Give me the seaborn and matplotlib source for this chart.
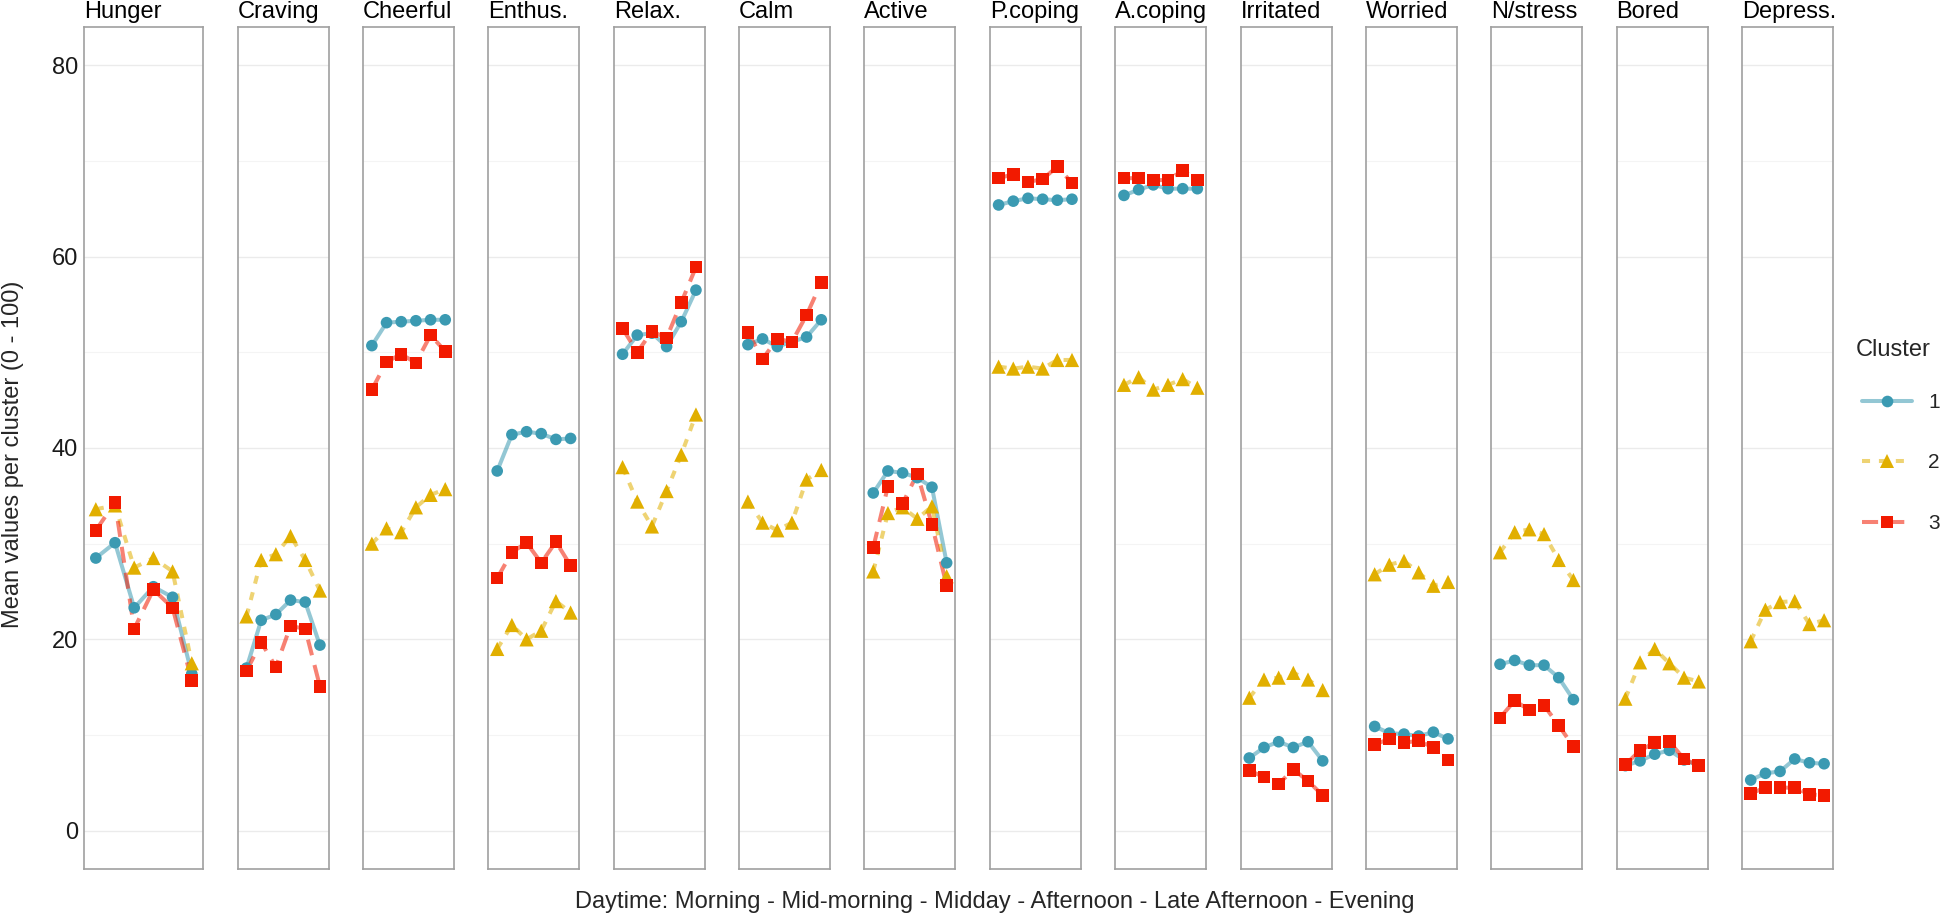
import matplotlib
matplotlib.use("Agg")
import matplotlib.pyplot as plt
import pandas as pd
import seaborn as sns
from matplotlib.colors import to_rgba
from matplotlib.lines import Line2D
from matplotlib.ticker import FixedLocator

EMOTIONS = ["Hunger", "Craving", "Cheerful", "Enthus.", "Relax.", "Calm", "Active",
            "P.coping", "A.coping", "Irritated", "Worried", "N/stress", "Bored", "Depress."]
DAYTIMES = [1, 2, 3, 4, 5, 6]  # Morning, Mid-morning, Midday, Afternoon, Late Afternoon, Evening
CLUSTERS = ["1", "2", "3"]

CLUSTER_1 = [
    [28.5, 30.1, 23.3, 25.5, 24.4, 16.4],
    [17.0, 22.0, 22.6, 24.1, 23.9, 19.4],
    [50.7, 53.1, 53.2, 53.3, 53.4, 53.4],
    [37.6, 41.4, 41.7, 41.5, 40.9, 41.0],
    [49.8, 51.8, 52.0, 50.6, 53.2, 56.5],
    [50.8, 51.4, 50.6, 51.1, 51.6, 53.4],
    [35.3, 37.6, 37.4, 36.9, 35.9, 28.0],
    [65.4, 65.8, 66.1, 66.0, 65.9, 66.0],
    [66.4, 67.0, 67.5, 67.1, 67.1, 67.1],
    [7.6, 8.7, 9.3, 8.7, 9.3, 7.3],
    [10.9, 10.2, 10.1, 9.9, 10.3, 9.6],
    [17.4, 17.8, 17.3, 17.3, 16.0, 13.7],
    [6.8, 7.3, 8.0, 8.4, 7.4, 6.8],
    [5.3, 6.0, 6.2, 7.5, 7.1, 7.0],
]
CLUSTER_2 = [
    [33.6, 34.0, 27.5, 28.5, 27.1, 17.5],
    [22.4, 28.3, 28.9, 30.8, 28.3, 25.1],
    [30.0, 31.6, 31.2, 33.8, 35.1, 35.7],
    [19.0, 21.5, 20.0, 20.9, 24.0, 22.8],
    [38.0, 34.4, 31.8, 35.5, 39.3, 43.5],
    [34.4, 32.2, 31.4, 32.2, 36.7, 37.7],
    [27.1, 33.2, 33.8, 32.6, 33.9, 26.6],
    [48.5, 48.3, 48.5, 48.3, 49.2, 49.2],
    [46.6, 47.4, 46.1, 46.6, 47.2, 46.3],
    [13.9, 15.8, 16.0, 16.5, 15.8, 14.7],
    [26.8, 27.8, 28.2, 27.0, 25.6, 26.0],
    [29.1, 31.2, 31.5, 31.0, 28.3, 26.2],
    [13.8, 17.6, 19.0, 17.5, 16.0, 15.6],
    [19.8, 23.1, 23.9, 24.0, 21.6, 22.0],
]
CLUSTER_3 = [
    [31.4, 34.3, 21.1, 25.2, 23.3, 15.7],
    [16.7, 19.7, 17.1, 21.4, 21.1, 15.1],
    [46.1, 49.0, 49.8, 48.9, 51.8, 50.1],
    [26.4, 29.1, 30.1, 28.0, 30.2, 27.7],
    [52.5, 50.0, 52.2, 51.5, 55.2, 58.9],
    [52.1, 49.3, 51.4, 51.1, 53.9, 57.3],
    [29.6, 36.0, 34.2, 37.3, 32.0, 25.6],
    [68.2, 68.6, 67.8, 68.1, 69.4, 67.7],
    [68.2, 68.2, 68.0, 68.0, 69.0, 68.0],
    [6.3, 5.6, 4.9, 6.4, 5.2, 3.7],
    [9.0, 9.6, 9.2, 9.4, 8.7, 7.4],
    [11.8, 13.6, 12.6, 13.1, 11.0, 8.8],
    [6.9, 8.4, 9.2, 9.3, 7.5, 6.8],
    [3.9, 4.5, 4.5, 4.5, 3.8, 3.7],
]

PALETTE = {"1": "#3B9AB2", "2": "#E1AF00", "3": "#F21A00"}
MARKERS = {"1": "o", "2": "^", "3": "s"}
SIZES = {"1": 70, "2": 105, "3": 82}
DASHES = {"1": "", "2": (2.0, 2.2), "3": (4.0, 2.5)}
LINE_ALPHA = 0.55
LINE_W = 2.9


def build_frame() -> pd.DataFrame:
    rows = []
    for cl, values in zip(CLUSTERS, [CLUSTER_1, CLUSTER_2, CLUSTER_3]):
        for emo, series in zip(EMOTIONS, values):
            for t, v in zip(DAYTIMES, series):
                rows.append({"emotion": emo, "daytime": t, "cluster": cl, "value": v})
    return pd.DataFrame(rows)


def style_axis(ax, first):
    ax.set_xlim(0.4, 6.6)
    ax.set_ylim(-4, 84)
    ax.set_xticks([])
    ax.yaxis.set_major_locator(FixedLocator([0, 20, 40, 60, 80]))
    ax.yaxis.set_minor_locator(FixedLocator([10, 30, 50, 70]))
    ax.grid(which="major", axis="y", color="#ebebeb", linewidth=1.0)
    ax.grid(which="minor", axis="y", color="#f4f4f4", linewidth=0.8)
    ax.set_axisbelow(True)
    ax.tick_params(axis="y", which="major", length=3, width=0.8, color="#555555",
                   pad=1.5, labelsize=17, labelcolor="#1a1a1a")
    ax.tick_params(axis="y", which="minor", length=0)
    if not first:
        ax.tick_params(axis="y", labelleft=False)
    for sp in ax.spines.values():
        sp.set_visible(True)
        sp.set_color("#a0a0a0")
        sp.set_linewidth(1.2)
    ax.set_xlabel("")
    ax.set_ylabel("")


def main() -> None:
    sns.set_style("white")
    plt.rcParams["font.family"] = ["Liberation Sans", "DejaVu Sans"]

    df = build_frame()
    W, H = 1944, 916
    fig = plt.figure(figsize=(W / 100, H / 100), dpi=100)

    top, bottom = 27, 869
    for i, emo in enumerate(EMOTIONS):
        if i == 0:
            left, width = 84.3, 119.0
        else:
            left, width = 237.7 + (i - 1) * 125.35, 91.0
        ax = fig.add_axes([left / W, 1 - bottom / H, width / W, (bottom - top) / H])
        sub = df[df["emotion"] == emo]
        sns.lineplot(data=sub, x="daytime", y="value", hue="cluster", style="cluster",
                     hue_order=CLUSTERS, style_order=CLUSTERS, palette=PALETTE,
                     dashes=DASHES, linewidth=LINE_W, alpha=LINE_ALPHA, errorbar=None,
                     legend=False, ax=ax)
        sns.scatterplot(data=sub, x="daytime", y="value", hue="cluster", style="cluster",
                        size="cluster", hue_order=CLUSTERS, style_order=CLUSTERS,
                        size_order=CLUSTERS, palette=PALETTE, markers=MARKERS, sizes=SIZES,
                        linewidth=0, legend=False, ax=ax, zorder=3)
        style_axis(ax, i == 0)
        ax.set_title(emo, loc="left", fontsize=17, pad=6.5, color="black")

    fig.text(13 / W, 1 - 454 / H, "Mean values per cluster (0 - 100)", rotation=90,
             ha="center", va="center", fontsize=17)
    fig.text(995 / W, 1 - 908 / H,
             "Daytime: Morning - Mid-morning - Midday - Afternoon - Late Afternoon - Evening",
             ha="center", va="baseline", fontsize=17)

    # legend: title as its own text, entries as a borderless legend
    fig.text(1856 / W, 1 - 356 / H, "Cluster", ha="left", va="baseline", fontsize=17)
    handles = []
    for cl in CLUSTERS:
        handles.append(Line2D([0], [0], color=to_rgba(PALETTE[cl], LINE_ALPHA), linewidth=LINE_W,
                              dashes=DASHES[cl] if DASHES[cl] else (None, None),
                              marker=MARKERS[cl], markersize=SIZES[cl] ** 0.5,
                              markerfacecolor=PALETTE[cl], markeredgewidth=0))
    fig.legend(handles, CLUSTERS, loc="center left",
               bbox_to_anchor=(1854 / W, 1 - 463 / H), frameon=False,
               fontsize=15, handlelength=2.4, handletextpad=0.75, labelspacing=2.0,
               borderpad=0.4, borderaxespad=0)

    fig.savefig("out.png", dpi=100)
    plt.close(fig)


if __name__ == "__main__":
    main()
